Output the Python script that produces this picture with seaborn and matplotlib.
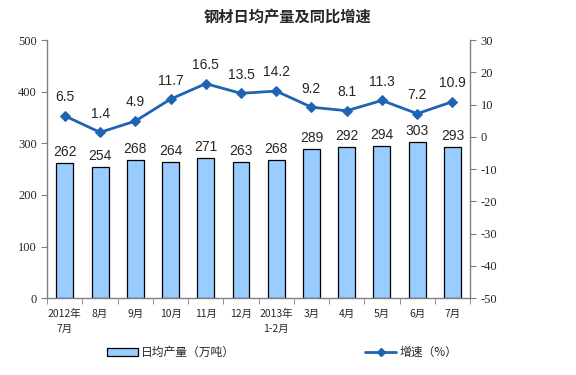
import numpy as np
import pandas as pd
import matplotlib
matplotlib.use('Agg')
import matplotlib.pyplot as plt
import seaborn as sns

# Chart data
months = ['2012年\n7月', '8月', '9月', '10月', '11月', '12月', '2013年\n1-2月',
          '3月', '4月', '5月', '6月', '7月']
output = [262, 254, 268, 264, 271, 263, 268, 289, 292, 294, 303, 293]
growth = [6.5, 1.4, 4.9, 11.7, 16.5, 13.5, 14.2, 9.2, 8.1, 11.3, 7.2, 10.9]

bar_color = '#99CCFF'
line_color = '#1F64B0'

sns.set_style('white')
plt.rcParams['font.family'] = ['Noto Sans CJK SC', 'DejaVu Sans']
plt.rcParams['axes.unicode_minus'] = False

df = pd.DataFrame({'month': months, 'output': output, 'growth': growth})

fig = plt.figure(figsize=(5.76, 3.75), dpi=100)
ax = fig.add_axes([0.082, 0.205, 0.734, 0.688])

sns.barplot(data=df, x='month', y='output', color=bar_color, width=0.48,
            edgecolor='#000000', linewidth=0.9, saturation=1, ax=ax)
ax.set_ylim(0, 500)
ax.set_yticks(range(0, 501, 100))
ax.set_xlim(-0.5, 11.5)
ax.set_xlabel('')
ax.set_ylabel('')

for i, v in enumerate(output):
    ax.text(i, v + 8, str(v), ha='center', va='bottom', fontsize=10,
            family='Liberation Sans')

ax2 = ax.twinx()
sns.lineplot(x=np.arange(len(growth)), y=growth, ax=ax2, color=line_color,
             marker='D', markersize=5, linewidth=2, markeredgecolor=line_color)
ax2.set_ylim(-50, 30)
ax2.set_yticks(range(-50, 31, 10))
ax2.set_xlim(-0.5, 11.5)
for i, v in enumerate(growth):
    ax2.text(i, v + 3.6, f'{v:.1f}', ha='center', va='bottom', fontsize=10,
             family='Liberation Sans')

# spines and ticks
for a in (ax, ax2):
    a.spines['top'].set_visible(False)
    for s in ('left', 'right', 'bottom'):
        a.spines[s].set_color('#808080')
        a.spines[s].set_linewidth(1)
ax.spines['right'].set_visible(False)
ax2.spines['left'].set_visible(False)
ax2.spines['bottom'].set_visible(False)

ax.tick_params(axis='y', direction='out', length=4, color='#808080', left=True,
               labelsize=9)
ax2.tick_params(axis='y', direction='out', length=4, color='#808080', right=True,
                labelsize=9)
for lab in ax.get_yticklabels() + ax2.get_yticklabels():
    lab.set_family('Liberation Serif')

# category ticks between bars
ax.set_xticks(np.arange(len(months)))
ax.set_xticklabels(months, fontsize=7.5, linespacing=1.6)
ax.tick_params(axis='x', which='major', length=0, pad=8)
ax.set_xticks(np.arange(-0.5, len(months)), minor=True)
ax.tick_params(axis='x', which='minor', direction='out', length=4,
               color='#808080', bottom=True)

fig.suptitle('钢材日均产量及同比增速', x=0.5, y=0.975, fontsize=11,
             fontweight='bold')

handles = [plt.Rectangle((0, 0), 1, 1, facecolor=bar_color, edgecolor='#000000',
                         linewidth=0.9),
           plt.Line2D([], [], color=line_color, marker='D', markersize=4,
                      linewidth=2)]
fig.legend(handles, ['日均产量（万吨）', '增速（%）'], loc='center',
           bbox_to_anchor=(0.49, 0.06), ncol=2, frameon=False, fontsize=8.5,
           columnspacing=11, handlelength=2.6, handletextpad=0.3)

fig.savefig('out.png', dpi=100)
